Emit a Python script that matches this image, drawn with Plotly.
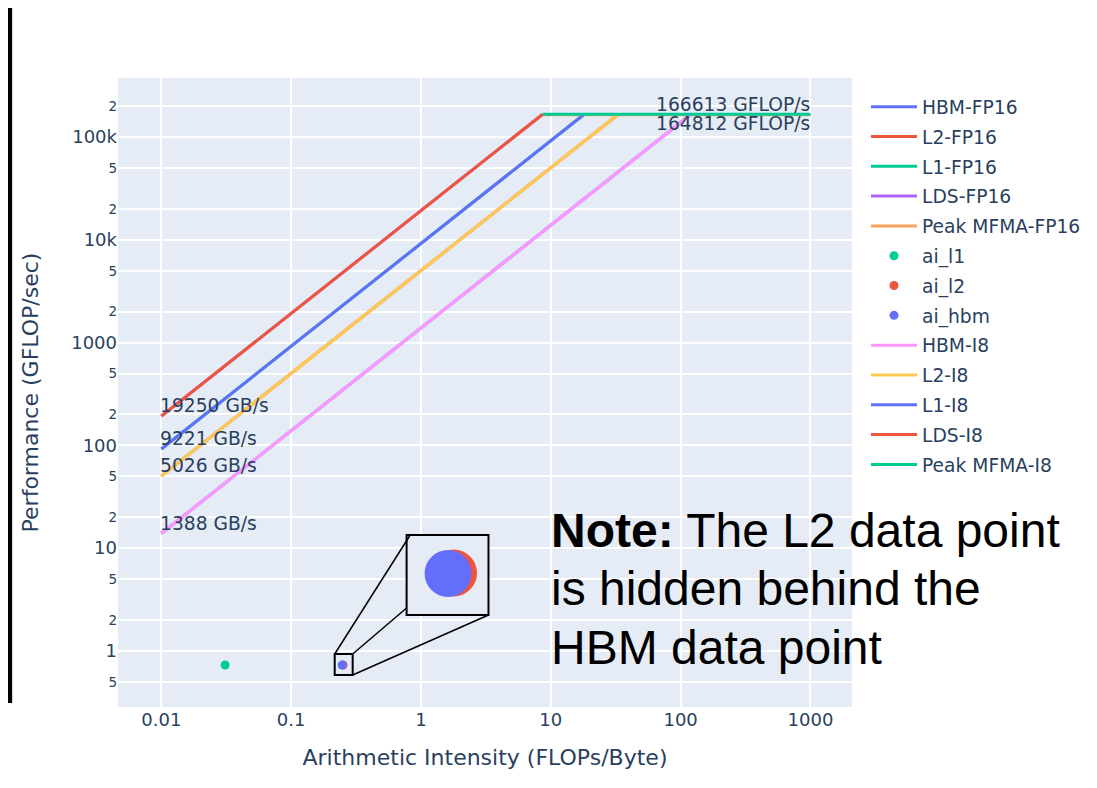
import plotly.graph_objects as go
import numpy as np

# roofline data
levels = ["HBM", "L2", "L1", "LDS"]
bandwidths = [1388, 5026, 9221, 19250]          # GB/s
peak_fp16 = 164812                              # GFLOP/s
peak_i8 = 166613                                # GFLOP/s
ai_names = ["ai_l1", "ai_l2", "ai_hbm"]
ai_x = [0.031, 0.251, 0.247]
ai_y = [0.73, 0.73, 0.73]
ai_colors = ["#00cc96", "#EF553B", "#636efa"]

fp16_colors = ["#636efa", "#EF553B", "#00cc96", "#ab63fa", "#FFA15A"]
i8_colors = ["#FF97FF", "#FECB52", "#636efa", "#EF553B", "#00cc96"]

x_min, x_max = 0.01, 1000

# page body has an 8px margin, so the figure is drawn 8px in from the window corner
OFF = 8
W, H = 1097 - OFF, 788 - OFF
L, R, T, B = 118 - OFF, 244, 78 - OFF, 81
PW, PH = W - L - R, H - T - B


def px(x):
    # window pixel -> paper x
    return (x - OFF - L) / PW


def py(y):
    # window pixel -> paper y
    return (H - B - (y - OFF)) / PH


fig = go.Figure()


def add_roofline(suffix, peak, colors):
    for lvl, bw, c in zip(levels, bandwidths, colors):
        fig.add_trace(go.Scatter(
            x=[x_min, peak / bw], y=[bw * x_min, peak],
            mode="lines", line=dict(color=c, width=3),
            name=f"{lvl}-{suffix}", legendgroup=f"{lvl}-{suffix}"
        ))
    fig.add_trace(go.Scatter(
        x=[peak / max(bandwidths), x_max], y=[peak, peak],
        mode="lines", line=dict(color=colors[-1], width=3),
        name=f"Peak MFMA-{suffix}", legendgroup=f"Peak MFMA-{suffix}"
    ))


add_roofline("FP16", peak_fp16, fp16_colors)

for n, xv, yv, c in zip(ai_names, ai_x, ai_y, ai_colors):
    fig.add_trace(go.Scatter(
        x=[xv], y=[yv], mode="markers",
        marker=dict(color=c, size=9), name=n, legendgroup=n
    ))

add_roofline("I8", peak_i8, i8_colors)

annotations = []
for bw in bandwidths:
    annotations.append(dict(
        x=np.log10(x_min), y=np.log10(bw * x_min), xref="x", yref="y",
        text=f"{bw} GB/s", showarrow=False, xanchor="left", yanchor="bottom",
        xshift=-3, yshift=-2, font=dict(size=18.7)
    ))
annotations.append(dict(
    x=np.log10(x_max), y=np.log10(peak_i8), text=f"{peak_i8} GFLOP/s",
    showarrow=False, xanchor="right", yanchor="bottom", xshift=2, yshift=-3,
    font=dict(size=18.7)
))
annotations.append(dict(
    x=np.log10(x_max), y=np.log10(peak_fp16), text=f"{peak_fp16} GFLOP/s",
    showarrow=False, xanchor="right", yanchor="top", xshift=2, yshift=4,
    font=dict(size=18.7)
))

# note text
note_lines = ["<b>Note:</b> The L2 data point", "is hidden behind the", "HBM data point"]
for i, t in enumerate(note_lines):
    annotations.append(dict(
        x=px(550), y=py(530 + 58.5 * i), xref="paper", yref="paper",
        text=t, showarrow=False, xanchor="left", yanchor="middle",
        font=dict(family="Liberation Sans, Arial", size=48, color="black")
    ))

shapes = [
    # black screenshot border on the left
    dict(type="rect", xref="paper", yref="paper", x0=px(-10), x1=px(12),
         y0=py(703), y1=py(-10), fillcolor="black", line=dict(width=0)),
    # magnifier inset
    dict(type="rect", xref="paper", yref="paper", x0=px(407), x1=px(489),
         y0=py(615), y1=py(535), fillcolor="#E5ECF6", line=dict(color="black", width=2)),
    dict(type="circle", xref="paper", yref="paper", x0=px(454 - 23.5), x1=px(454 + 23.5),
         y0=py(573 + 23.5), y1=py(573 - 23.5), fillcolor="#EF553B", line=dict(width=0)),
    dict(type="circle", xref="paper", yref="paper", x0=px(448.5 - 23.5), x1=px(448.5 + 23.5),
         y0=py(573.5 + 23.5), y1=py(573.5 - 23.5), fillcolor="#636efa", line=dict(width=0)),
    dict(type="rect", xref="paper", yref="paper", x0=px(335), x1=px(353),
         y0=py(675), y1=py(654), line=dict(color="black", width=2)),
    dict(type="line", xref="paper", yref="paper", x0=px(335), y0=py(654),
         x1=px(410), y1=py(536), line=dict(color="black", width=1.5)),
    dict(type="line", xref="paper", yref="paper", x0=px(353), y0=py(654),
         x1=px(407), y1=py(608), line=dict(color="black", width=1.5)),
    dict(type="line", xref="paper", yref="paper", x0=px(353), y0=py(675),
         x1=px(489), y1=py(615), line=dict(color="black", width=1.5)),
]

fig.update_layout(
    width=W, height=H,
    margin=dict(l=L, r=R, t=T, b=B),
    font=dict(family="DejaVu Sans", size=18, color="#2a3f5f"),
    plot_bgcolor="#E5ECF6", paper_bgcolor="white",
    xaxis=dict(type="log", range=[np.log10(x_min) - 0.334, np.log10(x_max) + 0.32], dtick=1,
               gridcolor="white", gridwidth=1.5, zeroline=False,
               title=dict(text="Arithmetic Intensity (FLOPs/Byte)", standoff=20)),
    yaxis=dict(type="log", range=[-0.5454, 5.5747], dtick="D2",
               gridcolor="white", gridwidth=1.5, zeroline=False,
               title=dict(text="Performance (GFLOP/sec)", standoff=26)),
    legend=dict(itemwidth=46, font=dict(size=18.7), tracegroupgap=2.5,
                x=px(866), xanchor="left", y=py(88), yanchor="top"),
    annotations=annotations,
    shapes=shapes,
    showlegend=True,
)

fig.write_html("out.html")
